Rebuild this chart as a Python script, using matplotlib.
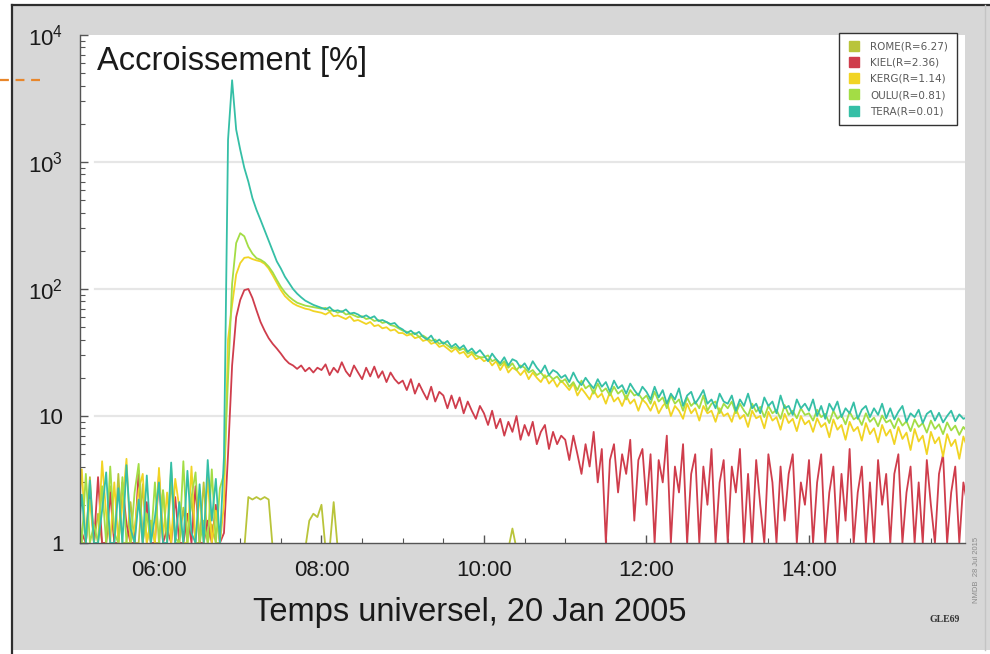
import numpy as np
import matplotlib
matplotlib.use("Agg")
import matplotlib.pyplot as plt
from matplotlib.lines import Line2D
from matplotlib.patches import Rectangle
from matplotlib.ticker import FixedLocator, FixedFormatter, LogLocator, NullFormatter

plt.rcParams['font.family'] = ['Liberation Sans', 'DejaVu Sans']
plt.rcParams['mathtext.default'] = 'regular'

# ---- data: increase in %, 3-minute samples from 05:00 UT (one row = one hour) ----
T_START_H = 5.0
STEP_MIN = 3

ROME = [2.4, 1, 1, 3.3, 1, 1.7, 1, 1, 2.8, 1, 3.5, 1, 1, 2.1, 1, 1, 2.9, 1, 1.5, 1,
        1, 2.6, 1, 3.2, 1, 1, 1.9, 1, 2.3, 1, 1, 3.0, 1, 1.4, 1, 1, 0.9, 0.9, 0.9, 0.9,
        0.9, 0.9, 2.3, 2.2, 2.3, 2.2, 2.3, 2.2, 0.9, 0.9, 0.9, 0.9, 0.9, 0.9, 0.9, 0.9, 0.9, 1.5, 1.7, 1.6,
        2.0, 0.9, 0.9, 2.1, 0.9, 0.9, 0.9, 0.9, 0.9, 0.9, 0.9, 0.9, 0.9, 0.9, 0.9, 0.9, 0.9, 0.9, 0.9, 0.9,
        0.9, 0.9, 0.9, 0.9, 0.9, 0.9, 0.9, 0.9, 0.9, 0.9, 0.9, 0.9, 0.9, 0.9, 0.9, 0.9, 0.9, 0.9, 0.9, 0.9,
        0.9, 0.9, 0.9, 0.9, 0.9, 0.9, 0.9, 1.3, 0.9, 0.9, 0.9, 0.9, 0.9, 0.9, 0.9, 0.9, 0.9, 0.9, 0.9, 0.9,
        0.9, 0.9, 0.9, 0.9, 0.9, 0.9, 0.9, 0.9, 0.9, 0.9, 0.9, 0.9, 0.9, 0.9, 0.9, 0.9, 0.9, 0.9, 0.9, 0.9,
        0.9, 0.9, 0.9, 0.9, 0.9, 0.9, 0.9, 0.9, 0.9, 0.9, 0.9, 0.9, 0.9, 0.9, 0.9, 0.9, 0.9, 0.9, 0.9, 0.9,
        0.9, 0.9, 0.9, 0.9, 0.9, 0.9, 0.9, 0.9, 0.9, 0.9, 0.9, 0.9, 0.9, 0.9, 0.9, 0.9, 0.9, 0.9, 0.9, 0.9,
        0.9, 0.9, 0.9, 0.9, 0.9, 0.9, 0.9, 0.9, 0.9, 0.9, 0.9, 0.9, 0.9, 0.9, 0.9, 0.9, 0.9, 0.9, 0.9, 0.9,
        0.9, 0.9, 0.9, 0.9, 0.9, 0.9, 0.9, 0.9, 0.9, 0.9, 0.9, 0.9, 0.9, 0.9, 0.9, 0.9, 0.9, 0.9, 0.9, 0.9]

KIEL = [1, 1.2, 1, 2.7, 1, 3.3, 1, 1, 2.5, 1, 1, 3.0, 1.4, 1, 1, 3.7, 1, 2.1, 1, 1,
        3.5, 1, 1.3, 1, 2.3, 1, 1, 1.7, 1, 2.8, 1, 1, 1.5, 1, 2.0, 1, 1.2, 5, 25, 60,
        82, 98, 100, 85, 68, 55, 47, 41, 37, 34, 31, 28, 26, 25, 23.5, 25, 22.5, 24, 22, 24,
        23, 25.5, 21, 24, 22, 26.5, 22.5, 20.5, 25, 22, 19.5, 24, 20.5, 24.5, 20, 22.5, 18.5, 22, 19.5, 18,
        19, 16, 19.5, 15, 18, 15.5, 13.5, 17, 13, 15.5, 14.5, 11.5, 14.5, 11.5, 14, 10.5, 13, 11, 9.5, 12,
        10.5, 8.5, 11, 8, 9.5, 7, 9, 7.5, 10, 6.5, 8.5, 7, 9, 6, 7.5, 8.5, 5.5, 7.5, 6, 7,
        6.5, 4.5, 7, 5, 3.5, 6, 4, 7.5, 3, 5.5, 1, 4.5, 6, 2.5, 5, 3.5, 6.5, 1.5, 4.5, 5.5,
        2, 5, 1, 4.5, 3, 7, 1, 4, 2.5, 6, 1, 3.5, 5, 1, 4, 2, 5.5, 1, 3, 4.5,
        1, 4, 2.5, 5.5, 1, 3.5, 1, 4.5, 2, 1, 5, 3, 1, 4, 1.5, 3.5, 5, 1, 3, 2,
        4.5, 1, 3, 5, 1, 2.5, 4, 1, 3.5, 1.5, 5.5, 1, 2.5, 4, 1, 3, 1, 4.5, 2, 3.5,
        1, 3.5, 5, 1, 2.5, 4, 1, 3, 1, 4.5, 2, 1, 3.5, 5, 1, 2.5, 4, 1, 3, 2]

KERG = [1.4, 3.8, 1, 2.2, 1, 1, 4.4, 1.7, 1, 3.0, 1, 2.0, 4.6, 1, 1.3, 2.6, 3.5, 1, 1.5, 1,
        3.9, 1.1, 2.5, 1, 3.2, 1.9, 1, 1, 4.0, 1, 2.4, 1, 3.3, 1, 1.8, 1, 2.0, 40, 75, 130,
        160, 176, 178, 172, 168, 165, 158, 145, 128, 112, 98, 88, 82, 77, 74, 72, 70, 69, 67, 66,
        65, 63, 66, 61, 62, 60, 58, 61, 56, 57, 55, 53, 55, 51, 52, 49, 50, 47, 48, 45,
        45, 43, 44, 41, 42, 39, 40, 37, 38, 35, 36, 34, 32, 34, 31, 32, 29, 31, 28, 29,
        27, 28, 25, 27, 23, 26, 22, 24, 23, 21, 23, 19.5, 22, 20, 18.5, 21, 18, 19.5, 17, 19,
        17.5, 16, 18, 14.5, 16.5, 15, 13.5, 16, 14, 15, 12.5, 15.5, 13, 14, 12, 14.5, 12.5, 13.5, 11, 13.5,
        12.5, 11, 13, 10.5, 12, 13, 10, 12, 11, 9.5, 12.5, 10.5, 11.5, 9.2, 12, 10.5, 11, 9, 11.5, 10,
        10.5, 9, 11.5, 9.5, 10.2, 8.2, 11, 9.6, 10, 8, 10.8, 9.2, 9.8, 7.8, 10.4, 8.8, 9.5, 7.6, 10, 8.6,
        9.2, 7.5, 9.6, 8.2, 8.8, 6.8, 9.4, 7.8, 8.5, 6.5, 9, 7.6, 8.2, 6.4, 8.8, 7.2, 8, 6.2, 8.5, 7,
        7.8, 6, 8.2, 6.6, 7.4, 5.4, 7.9, 6.3, 7, 5, 7.5, 6.1, 6.8, 4.8, 7.2, 5.8, 6.5, 4.6, 6.9, 5.6]

OULU = [2.0, 1, 3.5, 1, 1.4, 1, 2.8, 1, 4.0, 1.2, 1, 3.3, 1, 1, 2.5, 4.2, 1, 1.7, 1, 3.0,
        1, 2.6, 1, 3.9, 1.1, 1, 4.4, 1, 2.3, 3.6, 1, 1.5, 1, 3.8, 1, 2.7, 3.5, 20, 110, 230,
        275, 260, 215, 190, 175, 170, 162, 150, 135, 118, 104, 94, 87, 82, 78, 76, 74, 73, 72, 71,
        70, 71, 67, 68, 65, 67, 63, 64, 62, 60, 61, 58, 59, 56, 57, 54, 55, 52, 51, 49,
        47, 46, 44, 45, 42, 43, 41, 39, 40, 37, 38, 36, 34, 35, 33, 34, 31, 32, 30, 29,
        29, 30, 27, 28, 25, 27, 24, 26, 23, 25, 24, 22, 23, 21, 22, 20, 21, 19.5, 20.5, 18.5,
        19.5, 17, 18.5, 16, 19, 16.5, 17.5, 15, 18, 15.5, 16.5, 14.5, 17, 15, 16, 13.5, 16, 14.5, 15, 13.5,
        14.5, 12.5, 15.5, 13, 14, 11.5, 14.5, 12.5, 13.5, 11, 14, 12, 13, 11.5, 14.5, 11, 12.5, 13, 10.5, 12.5,
        11.5, 13, 10.5, 12.5, 11, 10, 12.5, 10.8, 11.8, 9.8, 12, 10.5, 11.2, 9.5, 12.2, 10.2, 11, 9.6, 11.5, 10.2,
        10.5, 9.2, 11.2, 9.8, 10.4, 8.8, 11, 9.5, 10.2, 8.6, 10.8, 9.4, 9.9, 8.5, 10.5, 9, 9.7, 8.3, 10.1, 8.9,
        9.3, 8, 9.6, 8.4, 9.1, 7.6, 9.4, 8.2, 8.8, 7.4, 9.2, 7.9, 8.6, 7.2, 8.9, 7.7, 8.4, 7.1, 8.2, 7.5]

TERA = [1, 2.4, 1, 3.1, 1, 1, 1.8, 3.6, 1, 1, 2.7, 1, 4.1, 1.3, 1, 2.2, 1, 3.4, 1, 1.6,
        3.0, 1, 1, 4.3, 1, 2.1, 1, 3.7, 1.2, 1, 2.9, 1, 4.5, 1.5, 3.2, 1, 4.8, 1500, 4400, 1800,
        1250, 900, 700, 520, 420, 350, 290, 240, 200, 165, 145, 125, 112, 100, 92, 86, 81, 78, 75, 73,
        71, 69, 72, 67, 68, 66, 69, 64, 65, 63, 60, 62, 59, 61, 56, 57, 55, 53, 54, 50,
        48, 45, 47, 44, 46, 42, 40, 43, 38, 40, 37, 39, 35, 37, 34, 36, 32, 34, 31, 33,
        30, 27, 31, 28, 26, 29, 25, 28, 27, 24, 26, 23, 27, 24, 22, 25, 21, 23, 22, 20,
        21, 18.5, 22, 19, 17.5, 20, 18, 16.5, 19.5, 17, 18.5, 15.5, 19, 16.5, 17.5, 15, 18, 16, 14.5, 17,
        15.5, 13.5, 17, 14, 16, 12.5, 15, 13.5, 16.5, 12, 14.5, 15.5, 12.5, 14, 16, 12.5, 13.5, 11.5, 15, 13,
        12.5, 14.5, 11, 13.5, 12, 15, 11.5, 12.5, 10.5, 14, 12, 13, 10.5, 14.5, 11.5, 12, 10.2, 13.5, 11.5, 12.5,
        11, 13.5, 10, 12, 9.5, 12.5, 11, 13, 9.8, 11.5, 10.5, 12.8, 9.5, 11.2, 12, 9.8, 11.5, 10.2, 12.5, 9.6,
        11.5, 9.4, 10.8, 12, 9, 10.5, 9.8, 11.2, 8.8, 10.4, 11, 9.2, 10.6, 8.9, 10, 11, 9.1, 10.3, 9.5, 9.8]

LABELS = ["ROME(R=6.27)", "KIEL(R=2.36)", "KERG(R=1.14)", "OULU(R=0.81)", "TERA(R=0.01)"]
COLORS = ["#b9c43a", "#cf3d4c", "#f1d424", "#a3dd45", "#35bfa6"]
VALUES = [ROME, KIEL, KERG, OULU, TERA]

XTICKS = [6, 8, 10, 12, 14]
XTICKLABELS = ["06:00", "08:00", "10:00", "12:00", "14:00"]
YTICKS = [1, 10, 100, 1000, 10000]
YTICKLABELS = ["1", "10", r"$10^2$", r"$10^3$", r"$10^4$"]

# ---- figure ----
W, H = 990, 654
fig = plt.figure(figsize=(W / 100, H / 100), dpi=100)
fig.patch.set_facecolor("white")

def fx(px):
    return px / W

def fy(py):
    return 1 - py / H

fig.patches.append(Rectangle((fx(12), fy(650)), fx(990) - fx(12), fy(5) - fy(650),
                             transform=fig.transFigure, facecolor="#d7d7d7",
                             edgecolor="none", zorder=-10))
fig.lines.append(Line2D([fx(12), fx(12)], [fy(5), fy(654)], transform=fig.transFigure,
                        color="#2e2e2e", lw=1.6, zorder=-5))
fig.lines.append(Line2D([fx(12), fx(990)], [fy(5), fy(5)], transform=fig.transFigure,
                        color="#2e2e2e", lw=1.6, zorder=-5))
fig.lines.append(Line2D([fx(985), fx(985)], [fy(5), fy(650)], transform=fig.transFigure,
                        color="#c4c4c4", lw=1.0, zorder=-5))
fig.lines.append(Line2D([fx(0), fx(40)], [fy(80), fy(80)], transform=fig.transFigure,
                        color="#e8862a", lw=1.6, dashes=(4, 3), zorder=-5))

ax = fig.add_axes([fx(80), fy(543), fx(965) - fx(80), fy(35) - fy(543)])
ax.set_zorder(5)
ax.set_facecolor("white")

for vals, col, lab in zip(VALUES, COLORS, LABELS):
    v = np.asarray(vals, dtype=float)
    t = T_START_H + np.arange(len(v)) * STEP_MIN / 60.0
    ax.plot(t, v, color=col, lw=1.3, label=lab)

ax.set_yscale("log")
ax.set_ylim(1, 10000)
ax.set_xlim(5.028, 15.92)

for gy in [10, 100, 1000]:
    ax.axhline(gy, xmin=0.017, xmax=1, color="#e6e6e6", lw=1.6, zorder=0)

ax.yaxis.set_major_locator(FixedLocator(YTICKS))
ax.yaxis.set_major_formatter(FixedFormatter(YTICKLABELS))
ax.yaxis.set_minor_locator(LogLocator(base=10, subs=np.arange(2, 10)))
ax.yaxis.set_minor_formatter(NullFormatter())
ax.xaxis.set_major_locator(FixedLocator(XTICKS))
ax.xaxis.set_major_formatter(FixedFormatter(XTICKLABELS))
ax.xaxis.set_minor_locator(FixedLocator(np.arange(5.5, 16, 0.5)))

ax.tick_params(axis="both", which="major", direction="in", length=6, width=1,
               color="#555555", labelsize=16, labelcolor="#1a1a1a")
ax.tick_params(axis="both", which="minor", direction="in", length=3.5, width=0.8,
               color="#555555")
ax.tick_params(axis="y", which="major", pad=12)
ax.tick_params(axis="x", which="major", pad=12)

for s in ["top", "right"]:
    ax.spines[s].set_visible(False)
for s in ["left", "bottom"]:
    ax.spines[s].set_color("#555555")
    ax.spines[s].set_linewidth(1.0)

ax.text(0.019, 0.978, "Accroissement [%]", transform=ax.transAxes, ha="left", va="top",
        fontsize=23.5, color="#1a1a1a")

handles = [Line2D([], [], marker="s", linestyle="none", markersize=6.5,
                  markerfacecolor=c, markeredgecolor=c) for c in COLORS]
leg = ax.legend(handles, LABELS, loc="upper right", bbox_to_anchor=(0.9905, 1.004),
                prop={"family": "DejaVu Sans", "size": 7.5}, labelspacing=0.6,
                handletextpad=1.0, handlelength=1.2, borderpad=0.8, borderaxespad=0,
                fancybox=False, shadow=False, framealpha=1)
leg.get_frame().set_edgecolor("#333333")
leg.get_frame().set_linewidth(1.0)
for txt in leg.get_texts():
    txt.set_color("#5a5a5a")

fig.text(fx(470), fy(613), "Temps universel, 20 Jan 2005", ha="center", va="center",
         fontsize=23.5, color="#1a1a1a")
fig.text(fx(945), fy(620), "GLE69", ha="center", va="center", fontsize=7,
         family="Liberation Serif", weight="bold", color="#333333")
fig.text(fx(977), fy(570), "NMDB  28 Jul 2015", ha="center", va="center", fontsize=5.5,
         rotation=90, color="#8a8a8a")

fig.savefig("out.png", dpi=100, facecolor=fig.get_facecolor())
